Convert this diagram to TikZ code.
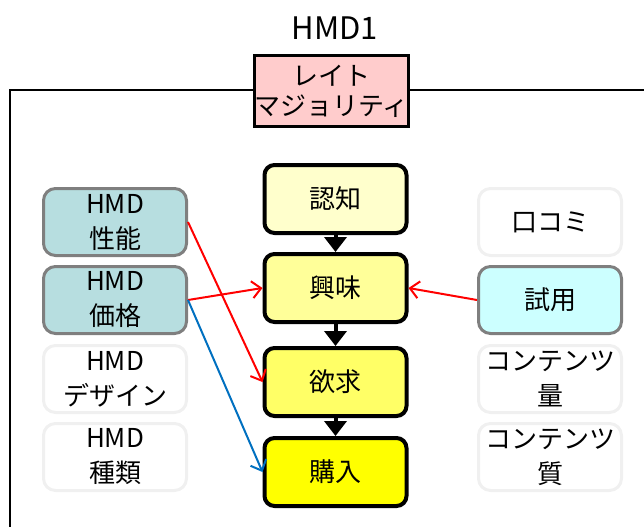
\documentclass[tikz,border=0pt]{standalone}
\usepackage{fontspec}
\setmainfont{Noto Sans CJK JP}
\usetikzlibrary{arrows.meta}
\definecolor{pinkfill}{HTML}{FFCCCC}
\definecolor{stage1}{HTML}{FFFFCC}
\definecolor{stage2}{HTML}{FFFF99}
\definecolor{stage3}{HTML}{FFFF66}
\definecolor{stage4}{HTML}{FFFF00}
\definecolor{tealfill}{HTML}{B7DEE0}
\definecolor{cyanfill}{HTML}{CCFFFF}
\definecolor{grayborder}{HTML}{7F7F7F}
\definecolor{lightborder}{HTML}{F0F0F0}
\definecolor{arrowred}{HTML}{FF0000}
\definecolor{arrowblue}{HTML}{0070C0}
\tikzset{
  every node/.style={font=\fontsize{26}{35}\selectfont, align=center, inner sep=0pt},
  stagebox/.style={draw=black, line width=4pt, rounded corners=10pt, minimum width=142pt, minimum height=68pt},
  factor/.style={draw=grayborder, line width=3pt, rounded corners=12pt, minimum width=143pt, minimum height=67pt},
  blankfactor/.style={draw=lightborder, line width=3pt, fill=white, rounded corners=12pt, minimum width=143pt, minimum height=67pt},
  flow/.style={line width=4pt, -{Triangle[length=15pt,width=22pt]}},
  link/.style={line width=2pt, -{Straight Barb[length=9pt,width=17pt]}},
}
\begin{document}
\begin{tikzpicture}[x=1pt,y=-1pt]
\useasboundingbox (0,0) rectangle (644,527);
% frame
\coordinate (ftl) at (10,90);
\coordinate (ftr) at (644,90);
\coordinate (fbl) at (10,527);
\draw[line width=2pt] (ftr) -- (ftl) -- (fbl);
% title
\node[font=\fontsize{31}{34}\selectfont] (title) at (335,28) {HMD1};
\node[draw=black, line width=2.5pt, fill=pinkfill, minimum width=145pt, minimum height=71pt] (segment) at (331.5,91) {レイト\\[-5pt]マジョリティ};
% stages
\node[stagebox, fill=stage1] (ninchi) at (335.5,199) {認知};
\node[stagebox, fill=stage2] (kyomi) at (335.5,288) {興味};
\node[stagebox, fill=stage3] (yokkyu) at (335.5,382) {欲求};
\node[stagebox, fill=stage4] (konyu) at (335.5,472) {購入};
\draw[flow] (ninchi.south) -- (kyomi.north);
\draw[flow] (kyomi.south) -- (yokkyu.north);
\draw[flow] (yokkyu.south) -- (konyu.north);
% left factors
\node[factor, fill=tealfill] (seino) at (115,222) {HMD\\性能};
\node[factor, fill=tealfill] (kakaku) at (115,300) {HMD\\価格};
\node[blankfactor] (design) at (115,379) {HMD\\デザイン};
\node[blankfactor] (shurui) at (115,457) {HMD\\種類};
% right factors
\node[blankfactor] (kuchikomi) at (550,222) {口コミ};
\node[factor, fill=cyanfill] (shiyo) at (550,300) {試用};
\node[blankfactor] (ryo) at (550,379) {コンテンツ\\量};
\node[blankfactor] (shitsu) at (550,457) {コンテンツ\\質};
% links
\draw[link, arrowred] (seino.east) -- (yokkyu.west);
\draw[link, arrowred] (kakaku.east) -- (kyomi.west);
\draw[link, arrowblue] (kakaku.east) -- (konyu.west);
\draw[link, arrowred] (shiyo.west) -- (kyomi.east);
\end{tikzpicture}
\end{document}
